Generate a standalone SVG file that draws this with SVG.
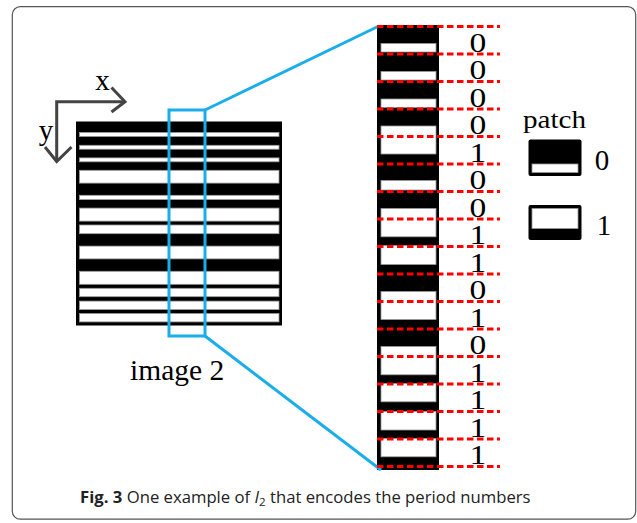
<svg xmlns="http://www.w3.org/2000/svg" width="637" height="523" viewBox="0 0 637 523">
  <style>
    .serif { font-family: "Liberation Serif", "Times New Roman", serif; fill: #000; }
    .cap { font-family: "Open Sans", "Noto Sans", sans-serif; fill: #222; font-size: 16.7px; }
    .stripe { fill: #fff; stroke: #9a9a9a; stroke-width: 0.8; }
    .blue { fill: none; stroke: #19aeea; stroke-width: 3; }
    .axis { fill: none; stroke: #444; stroke-width: 3; }
    .grid { stroke: #ff0000; stroke-width: 3.2; stroke-dasharray: 6.5 3.5; }
  </style>

  <!-- figure frame -->
  <rect x="12.3" y="6.7" width="623.4" height="512.5" rx="8" fill="#fff" stroke="#555" stroke-width="1.2"/>

  <!-- coordinate axes -->
  <g id="axes">
    <path class="axis" d="M56.7,161 V101.7 H124"/>
    <path class="axis" d="M111.5,87.5 L125,101.7 L111.5,112"/>
    <path class="axis" d="M45,147 L56.7,161.5 L71.5,147"/>
    <text class="serif" x="102.5" y="90" font-size="29" text-anchor="middle">x</text>
    <text class="serif" x="46" y="140" font-size="29" text-anchor="middle">y</text>
  </g>

  <!-- image 2: horizontal stripe pattern -->
  <g id="image2">
    <rect x="76" y="121.5" width="206" height="204" fill="#000"/>
    <g class="stripes">
      <rect class="stripe" x="79.5" y="132.5" width="199.5" height="3.9"/>
      <rect class="stripe" x="79.5" y="145.3" width="199.5" height="3.9"/>
      <rect class="stripe" x="79.5" y="157.9" width="199.5" height="3.9"/>
      <rect class="stripe" x="79.5" y="170.3" width="199.5" height="12.8"/>
      <rect class="stripe" x="79.5" y="195.3" width="199.5" height="4.3"/>
      <rect class="stripe" x="79.5" y="208.1" width="199.5" height="13"/>
      <rect class="stripe" x="79.5" y="225" width="199.5" height="8.7"/>
      <rect class="stripe" x="79.5" y="246.1" width="199.5" height="12.8"/>
      <rect class="stripe" x="79.5" y="271.3" width="199.5" height="13"/>
      <rect class="stripe" x="79.5" y="288.3" width="199.5" height="8.4"/>
      <rect class="stripe" x="79.5" y="301.1" width="199.5" height="8.5"/>
      <rect class="stripe" x="79.5" y="313.5" width="199.5" height="8.4"/>
    </g>
    <text class="serif" x="130" y="380" font-size="29.5">image 2</text>
  </g>

  <!-- magnified column -->
  <g id="column">
    <rect x="377" y="25" width="62" height="445" fill="#000"/>
    <rect class="stripe" x="381" y="43.5" width="55" height="8.5"/>
    <rect class="stripe" x="381" y="71.5" width="55" height="8.5"/>
    <rect class="stripe" x="381" y="99" width="55" height="8.5"/>
    <rect class="stripe" x="381" y="126" width="55" height="28"/>
    <rect class="stripe" x="381" y="180.5" width="55" height="9.5"/>
    <rect class="stripe" x="381" y="208.5" width="55" height="28.3"/>
    <rect class="stripe" x="381" y="245.5" width="55" height="19"/>
    <rect class="stripe" x="381" y="291.5" width="55" height="28"/>
    <rect class="stripe" x="381" y="346.5" width="55" height="28.3"/>
    <rect class="stripe" x="381" y="383.5" width="55" height="18.3"/>
    <rect class="stripe" x="381" y="411.5" width="55" height="18.5"/>
    <rect class="stripe" x="381" y="438.5" width="55" height="18.3"/>
  </g>

  <!-- selection box and zoom lines -->
  <g id="connectors">
    <rect class="blue" x="169" y="110" width="36" height="226"/>
    <line class="blue" x1="205" y1="110" x2="379" y2="26"/>
    <line class="blue" x1="205" y1="336" x2="381" y2="470"/>
  </g>

  <!-- patch grid lines -->
  <g id="grid">
    <line class="grid" x1="377" y1="26.5" x2="500" y2="26.5"/>
    <line class="grid" x1="377" y1="54" x2="500" y2="54"/>
    <line class="grid" x1="377" y1="81.5" x2="500" y2="81.5"/>
    <line class="grid" x1="377" y1="109" x2="500" y2="109"/>
    <line class="grid" x1="377" y1="136.5" x2="500" y2="136.5"/>
    <line class="grid" x1="377" y1="164" x2="500" y2="164"/>
    <line class="grid" x1="377" y1="191.5" x2="500" y2="191.5"/>
    <line class="grid" x1="377" y1="219" x2="500" y2="219"/>
    <line class="grid" x1="377" y1="246.5" x2="500" y2="246.5"/>
    <line class="grid" x1="377" y1="274" x2="500" y2="274"/>
    <line class="grid" x1="377" y1="301.5" x2="500" y2="301.5"/>
    <line class="grid" x1="377" y1="329" x2="500" y2="329"/>
    <line class="grid" x1="377" y1="356.5" x2="500" y2="356.5"/>
    <line class="grid" x1="377" y1="384" x2="500" y2="384"/>
    <line class="grid" x1="377" y1="411.5" x2="500" y2="411.5"/>
    <line class="grid" x1="377" y1="439" x2="500" y2="439"/>
    <line class="grid" x1="377" y1="466.5" x2="500" y2="466.5"/>
  </g>

  <!-- bit labels (slightly widened glyphs) -->
  <g id="bits" class="serif" font-size="28" text-anchor="middle" transform="scale(1.2 1)">
    <text x="398.3" y="52">0</text>
    <text x="398.3" y="79.5">0</text>
    <text x="398.3" y="107">0</text>
    <text x="398.3" y="134.5">0</text>
    <text x="398.3" y="162">1</text>
    <text x="398.3" y="189.5">0</text>
    <text x="398.3" y="217">0</text>
    <text x="398.3" y="244.5">1</text>
    <text x="398.3" y="272">1</text>
    <text x="398.3" y="299.5">0</text>
    <text x="398.3" y="327">1</text>
    <text x="398.3" y="354.5">0</text>
    <text x="398.3" y="382">1</text>
    <text x="398.3" y="409.5">1</text>
    <text x="398.3" y="437">1</text>
    <text x="398.3" y="464.5">1</text>
  </g>

  <!-- legend -->
  <g id="legend">
    <text class="serif" x="523" y="128" font-size="25" textLength="63" lengthAdjust="spacingAndGlyphs">patch</text>
    <g id="patch0">
      <rect x="528.5" y="139.5" width="53" height="36.5" rx="2" fill="#000"/>
      <rect class="stripe" x="532" y="164" width="46" height="8.5"/>
      <text class="serif" x="602" y="170" font-size="29" text-anchor="middle">0</text>
    </g>
    <g id="patch1">
      <rect x="528.5" y="205" width="53" height="35" rx="2" fill="#000"/>
      <rect class="stripe" x="532" y="208.5" width="46" height="20"/>
      <text class="serif" x="604" y="235" font-size="29" text-anchor="middle">1</text>
    </g>
  </g>

  <!-- caption -->
  <text class="cap" x="80" y="503"><tspan font-weight="bold">Fig. 3</tspan> One example of <tspan font-style="italic">I</tspan><tspan font-size="11.5" dy="3">2</tspan><tspan dy="-3"> that encodes the period numbers</tspan></text>
</svg>
